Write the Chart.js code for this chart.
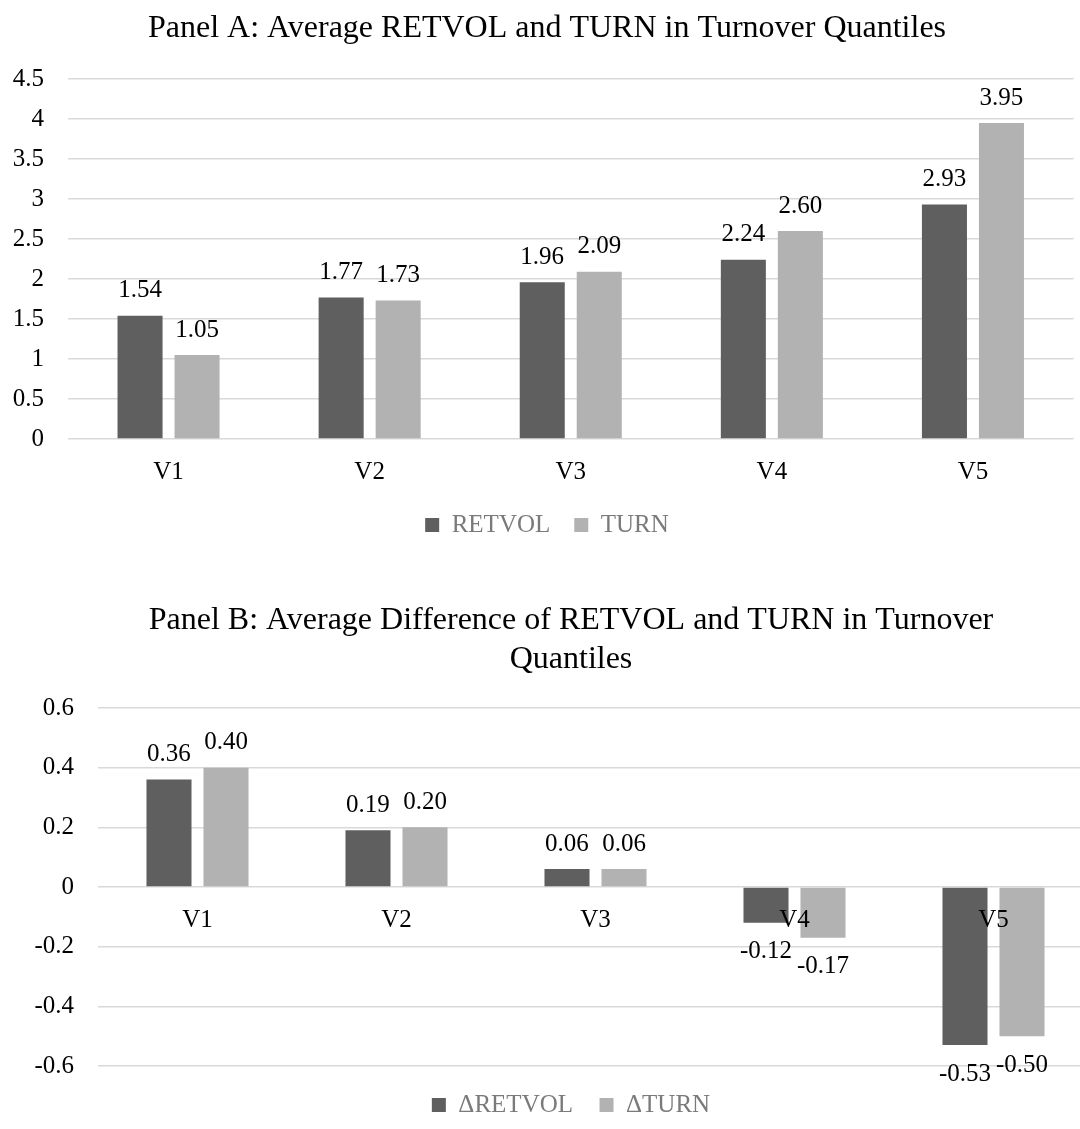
<!DOCTYPE html>
<html>
<head>
<meta charset="utf-8">
<script src="https://cdn.jsdelivr.net/npm/chart.js@4.4.1/dist/chart.umd.min.js"></script>
<style>
html, body { margin: 0; padding: 0; background: #fff; overflow: hidden; width: 1080px; height: 1129px; }
#boxA { position: absolute; left: 0; top: 0; }
#boxB { position: absolute; left: 0; top: 560px; }
</style>
</head>
<body>
<div id="boxA"><canvas id="chartA" width="1094" height="560"></canvas></div>
<div id="boxB"><canvas id="chartB" width="1142" height="569"></canvas></div>
<script>
// -- data --
const quantiles = ['V1', 'V2', 'V3', 'V4', 'V5'];

const retvol = [1.54, 1.77, 1.96, 2.24, 2.93];
const turn = [1.05, 1.73, 2.09, 2.60, 3.95];

const dRetvol = [0.36, 0.19, 0.06, -0.12, -0.53];
const dTurn = [0.40, 0.20, 0.06, -0.17, -0.50];

const yTicksA = ['0', '0.5', '1', '1.5', '2', '2.5', '3', '3.5', '4', '4.5'];
const yTicksB = ['-0.6', '-0.4', '-0.2', '0', '0.2', '0.4', '0.6'];

const titleA = 'Panel A: Average RETVOL and TURN in Turnover Quantiles';
const titleB = ['Panel B: Average Difference of RETVOL and TURN in Turnover', 'Quantiles'];

// -- look --
const serif = '"Liberation Serif", "Times New Roman", serif';
const darkGrey = '#5f5f5f';
const lightGrey = '#b2b2b2';
const gridGrey = '#d9d9d9';

// --> value labels over / under each bar <--
const barValues = {
    id: 'barValues',
    afterDatasetsDraw(chart) {
        const ctx = chart.ctx;
        ctx.save();
        ctx.font = '25px ' + serif;
        ctx.fillStyle = '#000';
        ctx.textAlign = 'center';
        ctx.textBaseline = 'middle';
        chart.data.datasets.forEach((ds, i) => {
            chart.getDatasetMeta(i).data.forEach((bar, j) => {
                const v = ds.data[j];
                const y = v >= 0 ? bar.y - 25 : bar.y + 29;
                ctx.fillText(v.toFixed(2), bar.x, y);
            });
        });
        ctx.restore();
    }
};

function makeChart(id, o) {
    return new Chart(document.getElementById(id).getContext('2d'), {
        type: 'bar',
        data: {
            labels: quantiles,
            datasets: [
                { label: o.names[0], data: o.series[0], backgroundColor: darkGrey,
                  categoryPercentage: o.catPct, barPercentage: 0.79, yAxisID: 'y' },
                { label: o.names[1], data: o.series[1], backgroundColor: lightGrey,
                  categoryPercentage: o.catPct, barPercentage: 0.79, yAxisID: 'y' }
            ]
        },
        options: {
            responsive: false,
            animation: false,
            layout: { padding: o.pad },
            plugins: {
                title: {
                    display: true,
                    text: o.title,
                    color: '#000',
                    font: { family: serif, size: 32, weight: 'normal', lineHeight: 1.2 },
                    padding: o.titlePad
                },
                legend: {
                    position: 'bottom',
                    labels: {
                        boxWidth: 14,
                        boxHeight: 14,
                        padding: o.legendPad,
                        color: '#7a7a7a',
                        font: { family: serif, size: 25 }
                    }
                },
                tooltip: { enabled: false }
            },
            scales: {
                x: {
                    position: o.xPos,
                    grid: { display: false, drawTicks: false },
                    border: { display: false },
                    // z 1: category names sit in front of the bars (panel B)
                    ticks: { z: 1, padding: 18, color: '#000', font: { family: serif, size: 25 } },
                    afterFit: o.xHeight ? (s => { s.height = o.xHeight; }) : undefined
                },
                y: {
                    min: o.min,
                    max: o.max,
                    grid: { color: gridGrey, lineWidth: 1.5, drawTicks: false },
                    border: { display: false },
                    ticks: {
                        stepSize: o.step,
                        padding: 24,
                        color: '#000',
                        font: { family: serif, size: 25 },
                        callback: (v, i) => o.ticks[i]
                    },
                    afterFit: s => { s.width = o.yWidth; }
                },
                // empty right margin so title and legend centre like the original
                yGap: {
                    position: 'right',
                    grid: { display: false, drawTicks: false },
                    border: { display: false },
                    ticks: { display: false },
                    afterFit: s => { s.width = o.rightGap; }
                }
            }
        },
        plugins: [barValues]
    });
}

// -- Panel A --
makeChart('chartA', {
    names: ['RETVOL', 'TURN'],
    series: [retvol, turn],
    title: titleA,
    titlePad: { top: 9.5, bottom: 31.1 },
    pad: { left: 0, right: 0, top: 0, bottom: 12.5 },
    legendPad: 24,
    catPct: 0.567,
    xPos: 'bottom',
    xHeight: 49.5,
    min: 0, max: 4.5, step: 0.5,
    ticks: yTicksA,
    yWidth: 68,
    rightGap: 20.5
});

// -- Panel B --
makeChart('chartB', {
    names: ['\u0394RETVOL', '\u0394TURN'],
    series: [dRetvol, dTurn],
    title: titleB,
    titlePad: { top: 41.8, bottom: 29.4 },
    pad: { left: 0, right: 0, top: 0, bottom: 1.5 },
    legendPad: 26.5,
    catPct: 0.573,
    xPos: { y: 0 },
    xHeight: 0,
    min: -0.6, max: 0.6, step: 0.2,
    ticks: yTicksB,
    yWidth: 98,
    rightGap: 49
});
</script>
</body>
</html>
